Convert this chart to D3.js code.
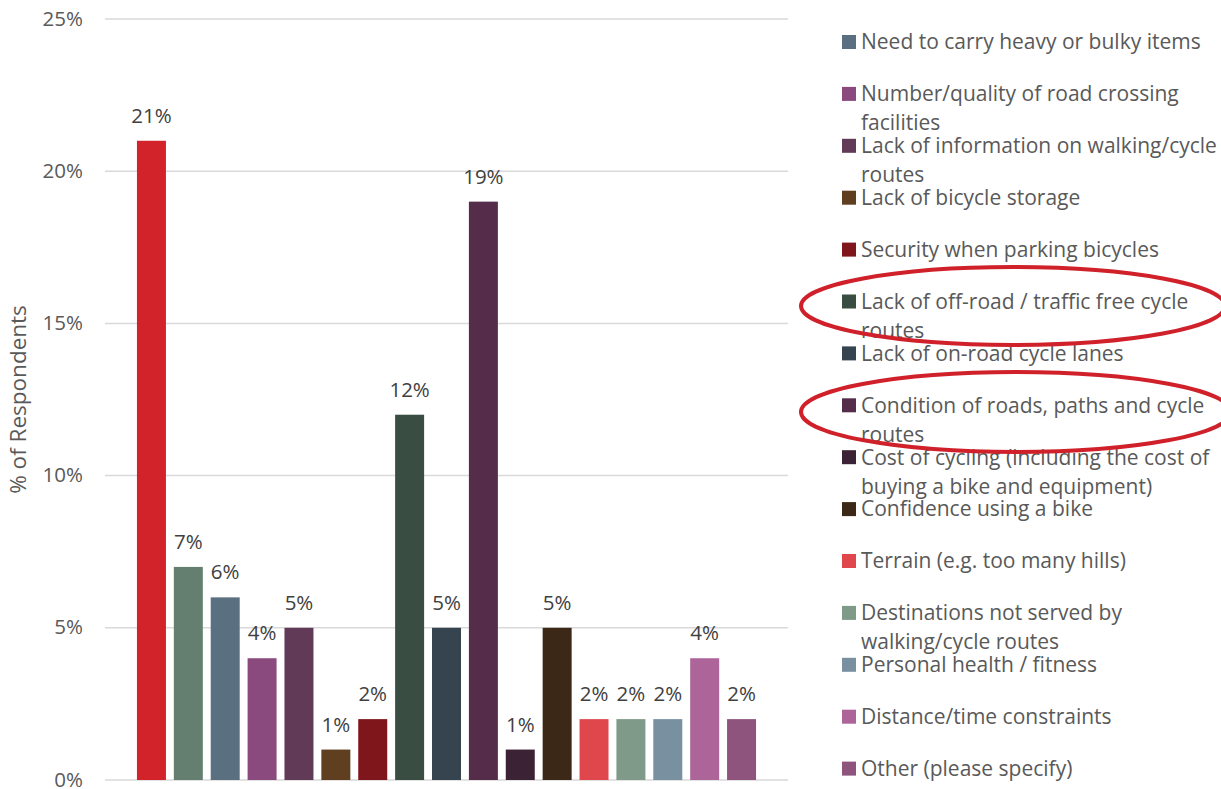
<!DOCTYPE html>
<html>
<head>
<meta charset="utf-8">
<script src="https://cdn.jsdelivr.net/npm/d3@7"></script>
<style>
  body { margin: 0; background: #fff; }
  text { font-family: "Open Sans", "Noto Sans", sans-serif; }
</style>
</head>
<body>
<div id="chart"></div>
<script>
// data (first two bars have no visible legend entry)
var categories = [
  "", "",
  "Need to carry heavy or bulky items",
  "Number/quality of road crossing facilities",
  "Lack of information on walking/cycle routes",
  "Lack of bicycle storage",
  "Security when parking bicycles",
  "Lack of off-road / traffic free cycle routes",
  "Lack of on-road cycle lanes",
  "Condition of roads, paths and cycle routes",
  "Cost of cycling (including the cost of buying a bike and equipment)",
  "Confidence using a bike",
  "Terrain (e.g. too many hills)",
  "Destinations not served by walking/cycle routes",
  "Personal health / fitness",
  "Distance/time constraints",
  "Other (please specify)"
];
var values = [21, 7, 6, 4, 5, 1, 2, 12, 5, 19, 1, 5, 2, 2, 2, 4, 2];
var colors = ["#d2232a", "#647e70", "#5a7080", "#8b4a7d", "#613a58", "#603f20", "#7f161b",
  "#3a4d42", "#36444f", "#552d4a", "#3c2235", "#3c2816", "#e0474d", "#7f9a88",
  "#7890a0", "#ad6499", "#8e547e"];
// legend lines as Excel wrapped them
var legendLines = [
  ["Need to carry heavy or bulky items"],
  ["Number/quality of road crossing", "facilities"],
  ["Lack of information on walking/cycle", "routes"],
  ["Lack of bicycle storage"],
  ["Security when parking bicycles"],
  ["Lack of off-road / traffic free cycle", "routes"],
  ["Lack of on-road cycle lanes"],
  ["Condition of roads, paths and cycle", "routes"],
  ["Cost of cycling (including the cost of", "buying a bike and equipment)"],
  ["Confidence using a bike"],
  ["Terrain (e.g. too many hills)"],
  ["Destinations not served by", "walking/cycle routes"],
  ["Personal health / fitness"],
  ["Distance/time constraints"],
  ["Other (please specify)"]
];
var yTicks = [0, 5, 10, 15, 20, 25];
var yTitle = "% of Respondents";

var W = 1221, H = 789;
var svg = d3.select("#chart").append("svg")
    .attr("width", W)
    .attr("height", H);

var y = d3.scaleLinear().domain([0, 25]).range([780, 19]);
var x = d3.scaleBand()
    .domain(d3.range(values.length))
    .range([133, 760])
    .paddingInner(0.214)
    .paddingOuter(0.107);

// gridlines
svg.append("g")
  .selectAll("line")
  .data(yTicks)
  .enter()
  .append("line")
    .attr("x1", 105)
    .attr("x2", 788)
    .attr("y1", d => y(d))
    .attr("y2", d => y(d))
    .style("stroke", "#d9d9d9")
    .style("stroke-width", 1.5);

// y axis labels
var yAxis = svg.append("g")
    .attr("transform", "translate(90,0)")
    .call(d3.axisLeft(y).tickValues(yTicks).tickSize(0).tickPadding(7)
      .tickFormat(d => d + "%"));
yAxis.select(".domain").remove();
yAxis.selectAll("text")
    .attr("dy", "0.3em")
    .style("font-size", "20.5px")
    .style("fill", "#595959")
    .style("font-family", "'Open Sans', sans-serif");

svg.append("text")
    .attr("transform", "translate(26," + ((y(25) + y(0)) / 2) + ") rotate(-90)")
    .style("text-anchor", "middle")
    .style("font-size", "22.5px")
    .style("fill", "#595959")
    .text(yTitle);

// bars
svg.append("g")
  .selectAll("rect")
  .data(values)
  .enter()
  .append("rect")
    .attr("x", (d, i) => x(i))
    .attr("y", d => y(d))
    .attr("width", x.bandwidth())
    .attr("height", d => y(0) - y(d))
    .style("fill", (d, i) => colors[i]);

// value labels
svg.append("g")
  .selectAll("text")
  .data(values)
  .enter()
  .append("text")
    .attr("x", (d, i) => x(i) + x.bandwidth() / 2)
    .attr("y", d => y(d) - 18)
    .style("text-anchor", "middle")
    .style("font-size", "20.5px")
    .style("fill", "#404040")
    .text(d => d + "%");

// legend
var leg = svg.append("g");
legendLines.forEach(function (lines, k) {
  var i = k + 2;
  var ly = 42 + k * 51.9;
  leg.append("rect")
      .attr("x", 842)
      .attr("y", ly - 7)
      .attr("width", 14)
      .attr("height", 14)
      .style("fill", colors[i]);
  var t = leg.append("text")
      .attr("x", 861)
      .attr("y", ly)
      .style("font-size", "21px")
      .style("fill", "#595959");
  lines.forEach(function (s, j) {
    t.append("tspan")
      .attr("x", 861)
      .attr("dy", j == 0 ? "0.35em" : "29")
      .text(s);
  });
});

// red hand-drawn circles around two legend entries
var rings = [{cx: 1013, cy: 306, rx: 212, ry: 39}, {cx: 1016, cy: 412, rx: 215, ry: 40}];
svg.append("g")
  .selectAll("ellipse")
  .data(rings)
  .enter()
  .append("ellipse")
    .attr("cx", d => d.cx)
    .attr("cy", d => d.cy)
    .attr("rx", d => d.rx)
    .attr("ry", d => d.ry)
    .style("fill", "none")
    .style("stroke", "#d0202a")
    .style("stroke-width", 4);
</script>
</body>
</html>
